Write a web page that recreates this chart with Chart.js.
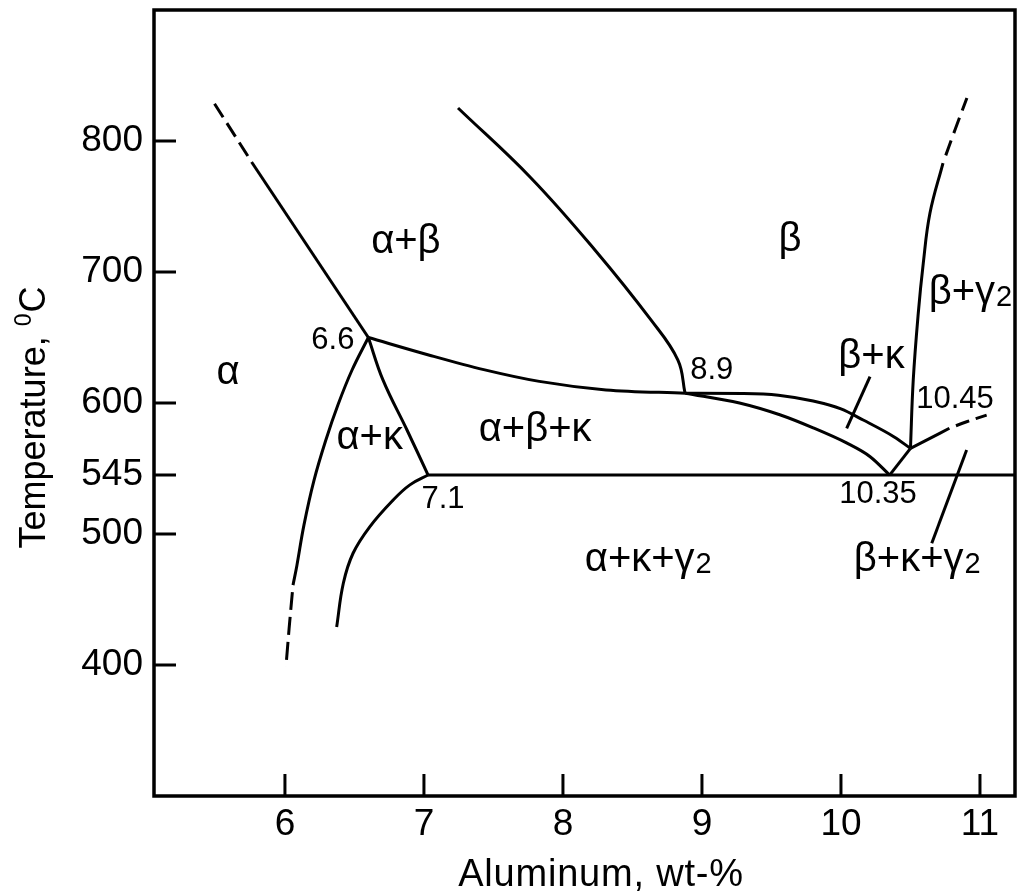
<!DOCTYPE html>
<html>
<head>
<meta charset="utf-8">
<script src="https://cdn.jsdelivr.net/npm/chart.js@4.4.0/dist/chart.umd.min.js"></script>
<style>
  html, body { margin: 0; padding: 0; background: #fff; }
</style>
</head>
<body>
<canvas id="phaseChart" width="1020" height="895"></canvas>
<script>
  // axis range and ticks
  const xMin = 5.058;
  const xMax = 11.252;
  const yMin = 300;
  const yMax = 900;
  const xTicks = [6, 7, 8, 9, 10, 11];
  const yTicks = [400, 500, 545, 600, 700, 800];

  // phase boundaries as [wt-% Al, temperature in C]
  const alphaSolvusDashed = [[5.76, 784], [5.49, 829]];
  const alphaSolvus = [[5.76, 784], [6.6, 650]];
  const alphaBetaLower = [[6.6, 650], [7.04, 636.5], [7.43, 625.5], [7.83, 616.5], [8.31, 610], [8.88, 607.5]];
  const betaTransus = [[7.245, 825.2], [7.77, 771.8], [8.23, 716.8], [8.633, 663.4], [8.827, 632.8], [8.878, 607.6]];
  const alphaKappaLeft = [[6.6, 650], [6.482, 625], [6.381, 598.5], [6.295, 572], [6.209, 541], [6.137, 507], [6.086, 476], [6.058, 461]];
  const alphaKappaLeftDashed = [[6.058, 461], [6.03, 428], [6.007, 398.5]];
  const alphaKappaRight = [[6.6, 650], [6.705, 617.6], [6.878, 579.4], [7.03, 545]];
  const gammaSolvus = [[7.03, 545], [6.899, 537.5], [6.779, 526], [6.61, 505.5], [6.49, 485.3], [6.42, 462.4], [6.372, 429]];
  const eutectoid = [[7.03, 545], [xMax, 545]];
  const betaKappaUpper = [[8.88, 607.5], [9.3, 607.3], [9.55, 606], [9.8, 601.5], [10.0, 595.5], [10.16, 587], [10.38, 574.3], [10.5, 565.4]];
  const betaKappaLower = [[8.88, 607.5], [9.27, 600], [9.56, 591], [9.8, 581], [10.04, 569.5], [10.21, 559], [10.35, 545]];
  const eutectoidLink = [[10.35, 545], [10.5, 565.4]];
  const betaGamma = [[10.5, 565.4], [10.52, 617.6], [10.556, 668.5], [10.592, 706.6], [10.64, 744.8], [10.734, 783.2]];
  const betaGammaDashed = [[10.734, 783.2], [10.82, 808.4], [10.906, 832.8]];
  const kappaGamma = [[10.5, 565.4], [10.64, 573], [10.78, 580.7]];
  const kappaGammaDashed = [[10.78, 580.7], [10.904, 585.7], [11.048, 590.8]];
  const leaderBetaKappa = [[10.209, 620.1], [10.041, 580.7]];
  const leaderThreePhase = [[10.904, 564.1], [10.653, 492.9]];

  // region names (an underscore marks a subscript)
  const phaseLabels = ['α', 'α+β', 'β', 'β+γ_2', 'β+κ', 'α+κ', 'α+β+κ', 'α+κ+γ_2', 'β+κ+γ_2'];
  const phaseLabelX = [5.59, 6.87, 9.633, 10.928, 10.22, 6.61, 7.8, 8.61, 10.545];
  const phaseLabelY = [623, 723, 724.4, 684, 635, 573.3, 579.4, 480.2, 480.2];

  // compositions of the invariant points
  const pointLabels = ['6.6', '8.9', '10.45', '7.1', '10.35'];
  const pointLabelX = [6.345, 9.07, 10.82, 7.137, 10.266];
  const pointLabelY = [649.6, 626.7, 604.8, 528.2, 532.3];

  const FONT = '"Liberation Sans", Arial, Helvetica, sans-serif';
  const TICK_LEN = 22;

  const toXY = pts => pts.map(p => ({ x: p[0], y: p[1] }));

  // curve: 'spline' = bezier through the points, 'mono' = monotone cubic
  const lines = [
    { pts: alphaSolvusDashed, dash: [16, 7] },
    { pts: alphaSolvus },
    { pts: alphaBetaLower, curve: 'mono' },
    { pts: betaTransus, curve: 'spline' },
    { pts: alphaKappaLeft, curve: 'spline' },
    { pts: alphaKappaLeftDashed, dash: [18, 7] },
    { pts: alphaKappaRight, curve: 'spline' },
    { pts: gammaSolvus, curve: 'spline' },
    { pts: eutectoid },
    { pts: betaKappaUpper, curve: 'mono' },
    { pts: betaKappaLower, curve: 'mono' },
    { pts: eutectoidLink },
    { pts: betaGamma, curve: 'spline' },
    { pts: betaGammaDashed, dash: [16, 8], curve: 'spline' },
    { pts: kappaGamma, curve: 'spline' },
    { pts: kappaGammaDashed, dash: [14, 7], curve: 'spline' },
    { pts: leaderBetaKappa },
    { pts: leaderThreePhase }
  ];

  const datasets = lines.map(l => ({
    data: toXY(l.pts),
    showLine: true,
    borderColor: '#000',
    borderWidth: 3,
    pointRadius: 0,
    cubicInterpolationMode: l.curve === 'mono' ? 'monotone' : 'default',
    tension: l.curve ? 0.4 : 0,
    borderDash: l.dash || [],
    borderDashOffset: l.dash ? l.dash[0] : 0
  }));

  // text with an optional subscript part after "_"
  function drawLabel(ctx, text, cx, cy, size, lift) {
    const parts = text.split('_');
    const main = parts[0];
    const sub = parts[1] || '';
    const subSize = Math.round(size * 0.72);
    ctx.font = `${size}px ${FONT}`;
    const wMain = ctx.measureText(main).width;
    ctx.font = `${subSize}px ${FONT}`;
    const wSub = sub ? ctx.measureText(sub).width : 0;
    const left = cx - (wMain + wSub) / 2;
    const base = cy + lift * size;
    ctx.textAlign = 'left';
    ctx.textBaseline = 'alphabetic';
    ctx.font = `${size}px ${FONT}`;
    ctx.fillText(main, left, base);
    if (sub) {
      ctx.font = `${subSize}px ${FONT}`;
      ctx.fillText(sub, left + wMain + 1, base + size * 0.06);
    }
  }

  const decorations = {
    id: 'decorations',
    afterDraw(chart) {
      const { ctx, chartArea: a, scales: { x, y } } = chart;
      ctx.save();
      ctx.strokeStyle = '#000';
      ctx.fillStyle = '#000';

      // frame and inward ticks
      ctx.lineWidth = 3.5;
      ctx.strokeRect(a.left, a.top, a.right - a.left, a.bottom - a.top);
      ctx.lineWidth = 3;
      ctx.beginPath();
      xTicks.forEach(v => {
        const px = x.getPixelForValue(v);
        ctx.moveTo(px, a.bottom);
        ctx.lineTo(px, a.bottom - TICK_LEN);
      });
      yTicks.forEach(v => {
        const py = y.getPixelForValue(v);
        ctx.moveTo(a.left, py);
        ctx.lineTo(a.left + TICK_LEN, py);
      });
      ctx.stroke();

      phaseLabels.forEach((t, i) => {
        drawLabel(ctx, t, x.getPixelForValue(phaseLabelX[i]), y.getPixelForValue(phaseLabelY[i]), 40, 0.27);
      });
      pointLabels.forEach((t, i) => {
        drawLabel(ctx, t, x.getPixelForValue(pointLabelX[i]), y.getPixelForValue(pointLabelY[i]), 31, 0.36);
      });

      // axis titles
      ctx.textBaseline = 'alphabetic';
      ctx.textAlign = 'center';
      ctx.font = `38px ${FONT}`;
      ctx.letterSpacing = '0.8px';
      ctx.fillText('Aluminum, wt-%', 601, 886);
      ctx.letterSpacing = '0px';

      ctx.translate(45, 418);
      ctx.rotate(-Math.PI / 2);
      const head = 'Temperature, ';
      ctx.font = `36px ${FONT}`;
      const wHead = ctx.measureText(head).width;
      const wC = ctx.measureText('C').width;
      ctx.font = `23px ${FONT}`;
      const wSup = ctx.measureText('0').width;
      const sx = -(wHead + wSup + wC) / 2;
      ctx.textAlign = 'left';
      ctx.font = `36px ${FONT}`;
      ctx.fillText(head, sx, 0);
      ctx.font = `23px ${FONT}`;
      ctx.fillText('0', sx + wHead, -14);
      ctx.font = `36px ${FONT}`;
      ctx.fillText('C', sx + wHead + wSup + 1, 0);
      ctx.restore();
    }
  };

  new Chart(document.getElementById('phaseChart'), {
    type: 'scatter',
    data: { datasets },
    options: {
      responsive: false,
      animation: false,
      devicePixelRatio: 1,
      layout: { padding: { top: 10, right: 5, left: 0, bottom: 0 } },
      plugins: { legend: { display: false }, tooltip: { enabled: false } },
      scales: {
        x: {
          type: 'linear',
          min: xMin,
          max: xMax,
          afterBuildTicks: s => { s.ticks = xTicks.map(v => ({ value: v })); },
          afterFit: s => { s.height = 99; s.paddingLeft = 0; s.paddingRight = 0; },
          grid: { display: false, drawTicks: false },
          border: { display: false },
          ticks: {
            autoSkip: false,
            maxRotation: 0,
            padding: 7,
            color: '#000',
            font: { family: FONT, size: 37 },
            callback: v => String(v)
          }
        },
        y: {
          type: 'linear',
          min: yMin,
          max: yMax,
          afterBuildTicks: s => { s.ticks = yTicks.map(v => ({ value: v })); },
          afterFit: s => { s.width = 154; s.paddingTop = 0; s.paddingBottom = 0; },
          grid: { display: false, drawTicks: false },
          border: { display: false },
          ticks: {
            autoSkip: false,
            padding: 11,
            color: '#000',
            font: { family: FONT, size: 37 },
            callback: v => String(v)
          }
        }
      }
    },
    plugins: [decorations]
  });
</script>
</body>
</html>
